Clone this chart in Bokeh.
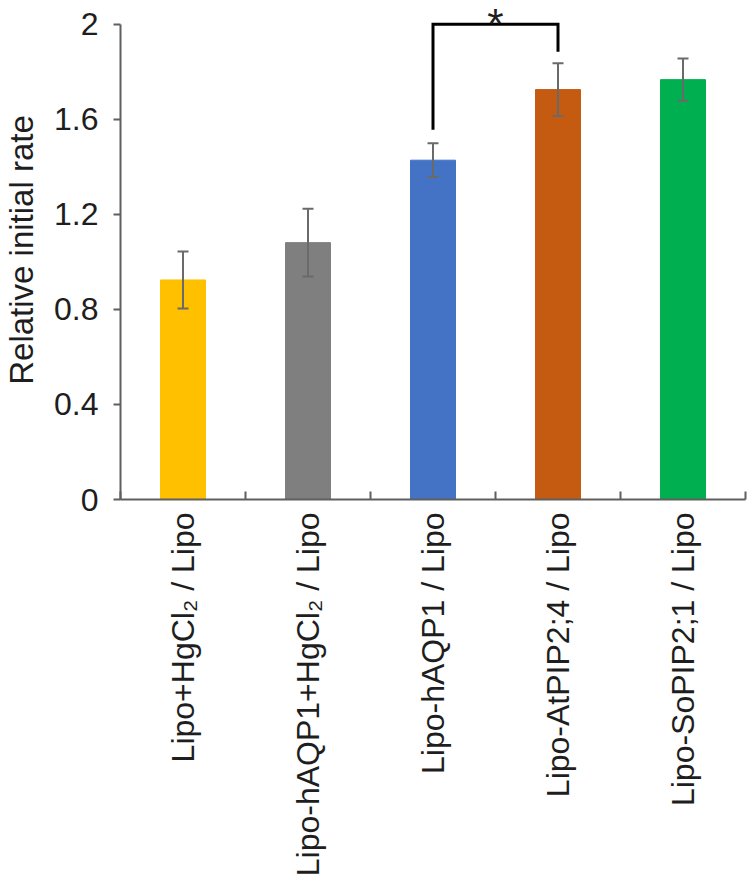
import math
from bokeh.plotting import figure
from bokeh.models import (Range1d, FixedTicker, LinearAxis, Whisker, ColumnDataSource,
                          Label, TeeHead)
from bokeh.embed import file_html
from bokeh.resources import INLINE

# ---- data ----
categories = ["Lipo+HgCl\u2082 / Lipo", "Lipo-hAQP1+HgCl\u2082 / Lipo", "Lipo-hAQP1 / Lipo",
              "Lipo-AtPIP2;4 / Lipo", "Lipo-SoPIP2;1 / Lipo"]
values = [0.924, 1.081, 1.428, 1.725, 1.767]
errors = [0.120, 0.143, 0.071, 0.111, 0.089]
colors = ["#FFC000", "#7F7F7F", "#4472C4", "#C55A11", "#00B050"]
y_ticks = [0, 0.4, 0.8, 1.2, 1.6, 2.0]
y_tick_labels = ["0", "0.4", "0.8", "1.2", "1.6", "2"]
y_label = "Relative initial rate"
sig_pair = [2, 3]
sig_bracket_top = 2.0
sig_bracket_ends = [1.556, 1.884]
sig_text = "*"

FONT = "Liberation Sans"
AXIS_COLOR = "#5f5f5f"
TEXT_COLOR = "#1e1e1e"

n = len(categories)
centers = [i + 0.5 for i in range(n)]
bounds = list(range(n + 1))

src = ColumnDataSource(dict(
    x=centers, top=values, color=colors,
    upper=[v + e for v, e in zip(values, errors)],
    lower=[v - e for v, e in zip(values, errors)],
))

p = figure(width=750, height=879, x_range=Range1d(0, n), y_range=Range1d(0, 2.1),
           output_backend="svg", toolbar_location=None,
           x_axis_location=None, y_axis_location=None,
           min_border_left=112, min_border_right=5, min_border_top=0, min_border_bottom=378)
p.outline_line_color = None
p.xgrid.visible = False
p.ygrid.visible = False
p.background_fill_color = "white"
p.border_fill_color = "white"

# y axis
yaxis = LinearAxis(
    ticker=FixedTicker(ticks=y_ticks, minor_ticks=[]),
    major_label_overrides={t: l for t, l in zip(y_ticks, y_tick_labels)},
    bounds=(0, 2),
    axis_label=y_label,
    axis_label_text_font=FONT, axis_label_text_font_size="33px",
    axis_label_text_font_style="normal", axis_label_text_color=TEXT_COLOR,
    axis_label_standoff=11,
    major_label_text_font=FONT, major_label_text_font_size="32px",
    major_label_text_color=TEXT_COLOR, major_label_standoff=15,
    axis_line_color=AXIS_COLOR, axis_line_width=2,
    major_tick_line_color=AXIS_COLOR, major_tick_line_width=2,
    major_tick_in=0, major_tick_out=7,
    minor_tick_line_color=None,
)
p.add_layout(yaxis, "left")

# x axis: labels at bar centers, ticks at category boundaries
xaxis = LinearAxis(
    ticker=FixedTicker(ticks=centers, minor_ticks=bounds),
    major_label_overrides={c: name for c, name in zip(centers, categories)},
    major_label_orientation=math.pi / 2,
    major_label_text_font=FONT, major_label_text_font_size="32px",
    major_label_text_color=TEXT_COLOR, major_label_standoff=13,
    axis_line_color=AXIS_COLOR, axis_line_width=2,
    major_tick_line_color=None, major_tick_in=0, major_tick_out=0,
    minor_tick_line_color=AXIS_COLOR, minor_tick_line_width=2,
    minor_tick_in=8, minor_tick_out=0,
)
p.add_layout(xaxis, "below")

# bars
p.vbar(x="x", top="top", bottom=0, width=0.36, color="color", source=src)

# error bars (drawn over the bars)
ERR_COLOR = "#6a6a6a"
p.add_layout(Whisker(
    base="x", upper="upper", lower="lower", source=src, level="annotation",
    line_color=ERR_COLOR, line_width=2,
    upper_head=TeeHead(size=11, line_color=ERR_COLOR, line_width=2),
    lower_head=TeeHead(size=11, line_color=ERR_COLOR, line_width=2),
))

# significance bracket
a, b = sig_pair
p.line(x=[centers[a], centers[a], centers[b], centers[b]],
       y=[sig_bracket_ends[0], sig_bracket_top, sig_bracket_top, sig_bracket_ends[1]],
       line_width=3, line_color="black", line_join="miter")
p.add_layout(Label(x=(centers[a] + centers[b]) / 2, y=sig_bracket_top, text=sig_text,
                   text_align="center", text_baseline="top", y_offset=24,
                   text_font=FONT, text_font_size="42px", text_color=TEXT_COLOR))

open("out.html", "w").write(file_html(p, INLINE))
